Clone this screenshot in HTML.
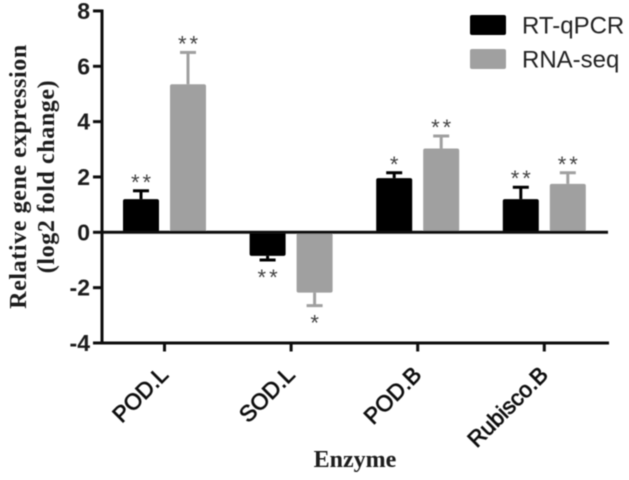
<!DOCTYPE html>
<html>
<head>
<meta charset="utf-8">
<style>
html,body{margin:0;padding:0;background:#fff;width:629px;height:480px;overflow:hidden}
svg{display:block}
text{font-family:"Liberation Sans",sans-serif}
</style>
</head>
<body>
<svg id="chart" width="629" height="480" viewBox="0 0 629 480" xmlns="http://www.w3.org/2000/svg">
<defs><filter id="soft" x="-5%" y="-5%" width="110%" height="110%"><feGaussianBlur stdDeviation="0.45"/></filter></defs>
<g id="root" filter="url(#soft)">
<text transform="translate(26,176.5) rotate(-90)" text-anchor="middle" style="font-family:'Liberation Serif',serif;font-weight:bold;font-size:24px;letter-spacing:0.6px" fill="#1a1a1a">Relative gene expression</text>
<text transform="translate(54,176.5) rotate(-90)" text-anchor="middle" style="font-family:'Liberation Serif',serif;font-weight:bold;font-size:24px;letter-spacing:0.6px" fill="#1a1a1a">(log2 fold change)</text>
<text x="355" y="467" text-anchor="middle" style="font-family:'Liberation Serif',serif;font-weight:bold;font-size:24px" fill="#1a1a1a">Enzyme</text>
<rect x="470" y="15" width="36" height="20" rx="2" fill="#000"/>
<text x="522" y="33.5" font-size="24" fill="#222">RT-qPCR</text>
<rect x="470" y="49" width="36" height="20" rx="2" fill="#a0a0a0"/>
<text x="522" y="67.5" font-size="24" fill="#222">RNA-seq</text>
</g>
</svg>
<script>
var categories = ["POD.L", "SOD.L", "POD.B", "Rubisco.B"];
var rtqpcrValues = [1.2, -0.85, 1.96, 1.2];
var rtqpcrErrors = [0.3, 0.15, 0.19, 0.43];
var rnaseqValues = [5.35, -2.18, 3.03, 1.75];
var rnaseqErrors = [1.15, 0.47, 0.45, 0.4];
var rtqpcrStars = ["**", "**", "*", "**"];
var rnaseqStars = ["**", "*", "**", "**"];
var yTicks = [8, 6, 4, 2, 0, -2, -4];

var NS = "http://www.w3.org/2000/svg";
var root = document.getElementById("root");
function yScale(v) { return 232.3 - v * 27.67; }
function xScale(i) { return 164.5 + i * 126.6; }
function make(tag, attrs) {
  var el = document.createElementNS(NS, tag);
  for (var k in attrs) el.setAttribute(k, attrs[k]);
  root.appendChild(el);
  return el;
}
function drawSeries(values, errors, stars, offset, color, key) {
  values.forEach(function (v, i) {
    var cx = xScale(i) + offset;
    var dir = v >= 0 ? 1 : -1;
    var end = v + dir * errors[i];
    var stem = make("line", {x1: cx, x2: cx, y1: yScale(v), y2: yScale(end), stroke: color, "stroke-width": 3});
    
    
    var cap = make("line", {x1: cx - 8, x2: cx + 8, y1: yScale(end), y2: yScale(end), stroke: color, "stroke-width": 3});
    
    
    var top = Math.min(yScale(v), yScale(0));
    var bar = make("rect", {x: cx - 18, y: top, width: 36, height: Math.abs(yScale(v) - yScale(0)), rx: 2, fill: color});
    
    
    var star = make("text", {x: cx + 1.5, y: yScale(end) + (dir > 0 ? -1 : 25), "text-anchor": "middle", "font-size": 22, "letter-spacing": 3, fill: "#444"});
    star.textContent = stars[i];
    
    
  });
}
drawSeries(rtqpcrValues, rtqpcrErrors, rtqpcrStars, -23.5, "#000", "rt-qpcr");
drawSeries(rnaseqValues, rnaseqErrors, rnaseqStars, 23.5, "#a0a0a0", "rna-seq");

var yAxis = make("line", {x1: 102, x2: 102, y1: yScale(8) - 1.5, y2: yScale(-4) + 1.5, stroke: "#111", "stroke-width": 3});


var zeroLine = make("line", {x1: 102, x2: 608, y1: yScale(0), y2: yScale(0), stroke: "#111", "stroke-width": 3});


var xAxis = make("line", {x1: 102, x2: 609, y1: yScale(-4), y2: yScale(-4), stroke: "#111", "stroke-width": 3});



yTicks.forEach(function (t) {
  var mark = make("line", {x1: 93, x2: 102, y1: yScale(t), y2: yScale(t), stroke: "#111", "stroke-width": 3});
  
  
  var label = make("text", {x: 90, y: yScale(t) + 8, "text-anchor": "end", "font-size": 23, "font-weight": "bold", fill: "#1a1a1a"});
  label.textContent = String(t);
  
  
});

categories.forEach(function (c, i) {
  var x = xScale(i);
  var mark = make("line", {x1: x, x2: x, y1: yScale(-4), y2: yScale(-4) + 8.5, stroke: "#111", "stroke-width": 3});
  
  
  var label = make("text", {transform: "translate(" + (x + 5) + ",376) rotate(-45)", "text-anchor": "end", "font-size": 22.5, fill: "#111", stroke: "#111", "stroke-width": 0.7});
  label.textContent = c;
  
  
});
</script>
</body>
</html>
